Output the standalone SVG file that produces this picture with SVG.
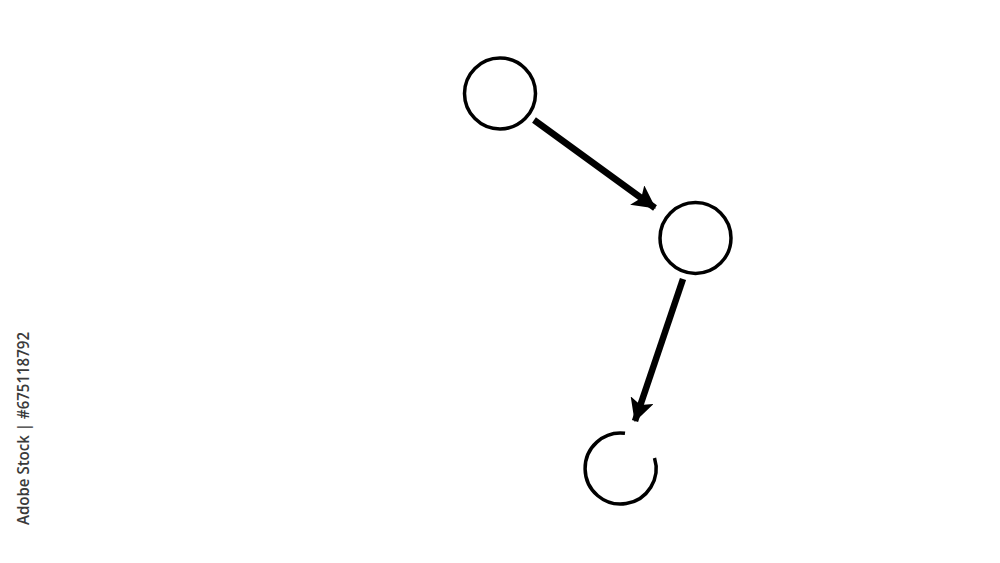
<svg xmlns="http://www.w3.org/2000/svg" width="1000" height="563" viewBox="0 0 1000 563">
<style>
.node{fill:none;stroke:#000;stroke-width:3.5}
.edge{stroke:#000;stroke-width:6.5;fill:none}
.wm{font-family:"Open Sans","Liberation Sans",sans-serif;font-size:16.5px;font-weight:600;fill:#3a3a3a}
</style>
<defs>
<marker id="ah" markerUnits="userSpaceOnUse" markerWidth="24" markerHeight="24" refX="22" refY="12" orient="auto">
<path d="M0,0 L23,12 L0,24 L5,12 Z" fill="#000"/>
</marker>
</defs>
<rect width="1000" height="563" fill="#fff"/>
<g id="connectors">
<line class="edge" x1="534" y1="120" x2="655" y2="208" marker-end="url(#ah)"/>
<line class="edge" x1="683" y1="279" x2="635" y2="421" marker-end="url(#ah)"/>
</g>
<g id="node1"><circle class="node" cx="500" cy="93.5" r="35.5"/></g>
<g id="node2"><circle class="node" cx="695.5" cy="238" r="35.5"/></g>
<g id="node3"><path class="node" d="M654.5,458 A35.5,35.5 0 1 1 625,433.3"/></g>
<text class="wm" transform="translate(29,525) rotate(-90)" textLength="193" lengthAdjust="spacingAndGlyphs">Adobe Stock | #675118792</text>
</svg>
